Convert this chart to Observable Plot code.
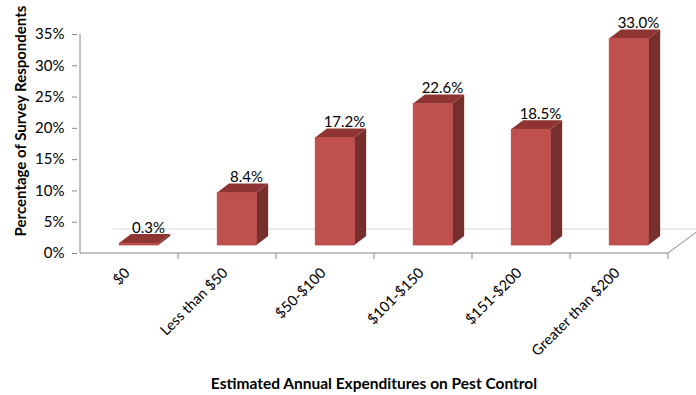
<!DOCTYPE html>
<html><head><meta charset="utf-8">
<script src="https://cdn.jsdelivr.net/npm/d3@7"></script>
<script src="https://cdn.jsdelivr.net/npm/@observablehq/plot@0.6"></script>
<style>html,body{margin:0;padding:0;background:#fff;overflow:hidden;} svg{display:block}</style>
</head><body><div id="chart"></div>
<script>
const categories = ["$0", "Less than $50", "$50-$100", "$101-$150", "$151-$200", "Greater than $200"];
const values = [0.3, 8.4, 17.2, 22.6, 18.5, 33.0];
const yTicks = [0, 5, 10, 15, 20, 25, 30, 35];
const yTitle = "Percentage of Survey Respondents";
const xTitle = "Estimated Annual Expenditures on Pest Control";

const data = categories.map((c, i) => ({category: c, value: values[i]}));

function bars3d(index, scales) {
  const {x, y} = scales;
  const step = x(categories[1]) - x(categories[0]);
  const ns = "http://www.w3.org/2000/svg";
  const g = document.createElementNS(ns, "g");
  const add = (tag, attrs) => {
    const e = document.createElementNS(ns, tag);
    for (const k in attrs) e.setAttribute(k, attrs[k]);
    g.appendChild(e);
    return e;
  };
  const y0 = y(0);
  const x0 = x(categories[0]);
  const xEnd = x(categories[categories.length - 1]) + step;
  const fdx = step / 3, fdy = 24;
  // floor
  add("line", {x1: x0 + fdx, x2: xEnd + fdx, y1: y0 - fdy, y2: y0 - fdy, stroke: "#d9d9d9"});
  add("line", {x1: xEnd, y1: y0, x2: xEnd + fdx, y2: y0 - fdy, stroke: "#868686"});
  // axis lines
  add("line", {x1: x0, x2: x0, y1: y(yTicks[yTicks.length - 1]), y2: y0, stroke: "#868686"});
  add("line", {x1: x0, x2: xEnd, y1: y0, y2: y0, stroke: "#868686"});
  categories.forEach(c => {
    const xb = x(c) + step;
    add("line", {x1: xb, x2: xb, y1: y0, y2: y0 + 6, stroke: "#868686"});
  });
  // bars
  const lift = 8, ddx = 0.12 * step, ddy = 9;
  data.forEach(d => {
    const b = x(d.category);
    const fx1 = b + 0.4 * step, fx2 = b + 0.8 * step;
    const yb = y0 - lift, yt = y(d.value) - lift;
    add("polygon", {points: [[fx2, yb], [fx2 + ddx, yb - ddy], [fx2 + ddx, yt - ddy], [fx2, yt]].join(" "), fill: "#772f2d"});
    add("polygon", {points: [[fx1, yt], [fx1 + ddx, yt - ddy], [fx2 + ddx, yt - ddy], [fx2, yt]].join(" "), fill: "#8e3533"});
    add("rect", {x: fx1, y: yt, width: fx2 - fx1, height: yb - yt, fill: "#c0504d", stroke: "#b4433f", "stroke-width": 0.7});
  });
  return g;
}

const chart = Plot.plot({
  width: 696,
  height: 395,
  marginLeft: 77,
  marginRight: 26,
  marginTop: 34,
  marginBottom: 142,
  style: {fontFamily: "Lato, sans-serif", fontSize: "15px", color: "#000", background: "#fff"},
  x: {type: "band", domain: categories, padding: 0},
  y: {domain: [0, 35]},
  marks: [
    bars3d,
    Plot.axisY(yTicks, {tickSize: 5, tickPadding: 8, tickFormat: d => d + "%", stroke: "#868686", fontSize: 15, label: null}),
    Plot.axisX({tickSize: 0, tickPadding: 17, tickRotate: -45, fontSize: 14.5, label: null, dx: -2}),
    Plot.text(data, {x: "category", y: "value", text: d => d.value.toFixed(1) + "%", dx: 19, dy: -19, lineAnchor: "bottom", fontSize: 15}),
    Plot.text([yTitle], {text: d => d, frameAnchor: "left", textAnchor: "middle", lineAnchor: "middle", rotate: -90, dx: -56, dy: -23, fontWeight: "bold", fontSize: 15}),
    Plot.text([xTitle], {text: d => d, frameAnchor: "bottom", textAnchor: "middle", lineAnchor: "middle", dy: 131, fontWeight: "bold", fontSize: 15.5})
  ]
});
document.getElementById("chart").append(chart);
</script>
</body></html>
